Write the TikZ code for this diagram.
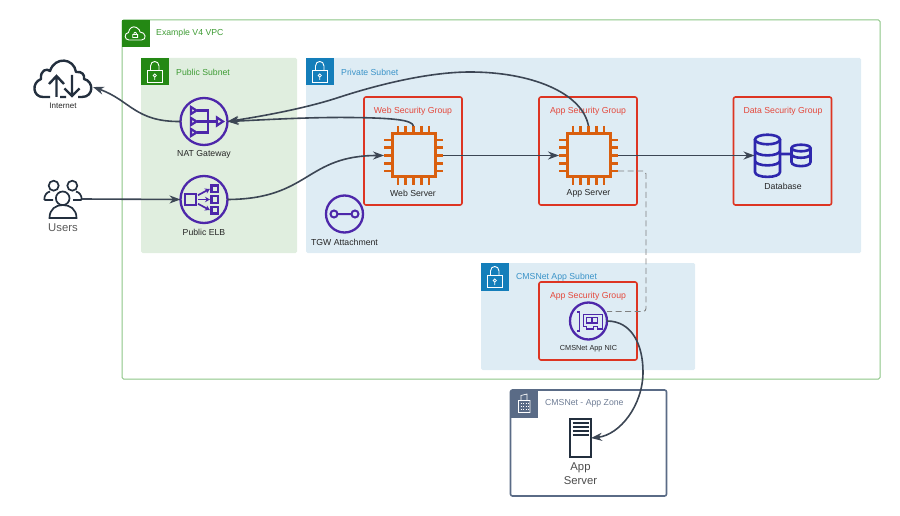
\documentclass[tikz,border=0pt]{standalone}
\usepackage{fontspec}
\setmainfont{Liberation Sans}
\usetikzlibrary{arrows.meta}
\definecolor{vpcgreen}{HTML}{248814}
\definecolor{vpcline}{HTML}{8CC586}
\definecolor{vpctext}{HTML}{3F9C35}
\definecolor{pubfill}{HTML}{E0EEDF}
\definecolor{privfill}{HTML}{DEECF4}
\definecolor{subblue}{HTML}{147EBA}
\definecolor{subtext}{HTML}{3A93C8}
\definecolor{sgred}{HTML}{DD3522}
\definecolor{sgtext}{HTML}{E4483C}
\definecolor{chiporange}{HTML}{D95F0E}
\definecolor{netpurple}{HTML}{4D27AA}
\definecolor{dbblue}{HTML}{2E27AD}
\definecolor{zonegray}{HTML}{5A6B86}
\definecolor{zonetext}{HTML}{6F7D95}
\definecolor{inkdark}{HTML}{232F3E}
\definecolor{connline}{HTML}{3C4654}
\tikzset{
  lab/.style={font=\fontsize{8.7}{10.5}\selectfont, inner sep=0pt, text=black!85},
  grouplab/.style={lab, anchor=west},
  bigbox/.style={anchor=north west, inner sep=0pt, outer sep=0pt, rounded corners=1.5pt},
  iconbox/.style={bigbox, minimum size=27.5, rounded corners=0pt},
  sgbox/.style={bigbox, draw=sgred, line width=1.6pt, minimum width=98, minimum height=108, rounded corners=2pt},
  iconspot/.style={inner sep=0pt, outer sep=0pt},
  round/.style={iconspot, circle, draw=netpurple, line width=2.3pt},
  conn/.style={draw=connline, line width=1.6pt, -{Stealth[length=11pt,width=8pt]}},
  % padlock of the subnet corners
  padlock/.pic={
    \draw[white, line width=.9pt] (6.5,12.5) rectangle (21,24);
    \draw[white, line width=.9pt] (9.5,12.5) -- (9.5,8) .. controls (9.5,2) and (18,2) .. (18,8) -- (18,12.5);
    \draw[white, line width=.8pt] (13.8,17.5) circle[radius=1.6] (13.8,19) -- (13.8,22);
  },
  % cpu with pins on all sides
  chip/.pic={
    \draw[chiporange, line width=3pt] (-21.5,-21.5) rectangle (21.5,21.5);
    \foreach \p in {-15.6,-7.8,0,7.8,15.6} {
      \draw[chiporange, line width=2.7pt] (\p,-29.5) -- (\p,-21.5) (\p,21.5) -- (\p,29.5)
        (-29.5,\p) -- (-21.5,\p) (21.5,\p) -- (29.5,\p);
    }
  },
}
\begin{document}
\begin{tikzpicture}[x=1pt, y=-1pt]
\useasboundingbox (0,0) rectangle (900,516);

% VPC and subnets
\node[bigbox, draw=vpcline, line width=1pt, minimum width=758, minimum height=359] (vpc) at (122,20) {};
\node[iconbox, fill=vpcgreen] (vpcIcon) at (122,20) {};
\draw[white, line width=.9pt] (129,40) .. controls (124,40) and (124,33) .. (128.5,32.5) .. controls (129,28) and (133,25.5) .. (136.5,27.5)
  .. controls (139,28.5) and (140,31) .. (140,32) .. controls (146,32) and (147,40) .. (141.5,40) -- cycle;
\draw[white, line width=.8pt] (132.8,34.5) rectangle (137.6,37.5) (133.8,34.5) .. controls (133.8,31.5) and (136.6,31.5) .. (136.6,34.5);
\node[grouplab, text=vpctext] (vpcLabel) at (156,33) {Example V4 VPC};

\node[bigbox, fill=pubfill, minimum width=156, minimum height=195] (publicSubnet) at (141,58) {};
\node[iconbox, fill=vpcgreen] (publicIcon) at (141,58) {};
\pic at (141,58) {padlock};
\node[grouplab, text=vpctext] (publicLabel) at (176,72) {Public Subnet};

\node[bigbox, fill=privfill, minimum width=555, minimum height=195] (privateSubnet) at (306,58) {};
\node[iconbox, fill=subblue] (privateIcon) at (306,58) {};
\pic at (306,58) {padlock};
\node[grouplab, text=subtext] (privateLabel) at (341,72) {Private Subnet};

\node[bigbox, fill=privfill, minimum width=214, minimum height=107] (cmsSubnet) at (481,263) {};
\node[iconbox, fill=subblue] (cmsIcon) at (481,263) {};
\pic at (481,263) {padlock};
\node[grouplab, text=subtext] (cmsLabel) at (516,277) {CMSNet App Subnet};

% Security groups
\node[sgbox] (webGroup) at (364,97) {};
\node[lab, text=sgtext] at (413,111) {Web Security Group};
\node[sgbox] (appGroup) at (539,97) {};
\node[lab, text=sgtext] at (588,111) {App Security Group};
\node[sgbox] (dataGroup) at (733.5,97) {};
\node[lab, text=sgtext] at (783,111) {Data Security Group};
\node[sgbox, minimum height=78] (nicGroup) at (539,282) {};
\node[lab, text=sgtext] at (588,296) {App Security Group};

% App zone
\node[bigbox, draw=zonegray, line width=1.6pt, minimum width=156, minimum height=106, rounded corners=2pt] (appZone) at (510.5,390) {};
\node[iconbox, fill=zonegray] (zoneIcon) at (510.5,390) {};
\draw[white, line width=.7pt] (518.5,412.5) rectangle (530,400.5) (521,400.5) -- (521,395.5) -- (527,394) -- (527,400.5);
\foreach \r in {403.5,406.5,409.5} {
  \draw[white, line width=.7pt, dash pattern=on 1pt off 1.5pt] (520.5,\r) -- (528.5,\r);
}
\node[grouplab, text=zonetext] (zoneLabel) at (545,403) {CMSNet - App Zone};

% Left side
\node[iconspot, minimum width=60, minimum height=38] (internet) at (63,79) {};
\draw[inkdark, line width=2.4pt, line join=round] (50,97) -- (43,97) .. controls (33,97) and (31,83) .. (41,79) .. controls (40,70) and (47,68) .. (50,71)
  .. controls (55,56) and (74,58) .. (76,72) .. controls (82,71) and (85,75) .. (84,79) .. controls (94,81) and (94,97) .. (82,97) -- (78,97)
  (60,97) -- (66,97);
\draw[inkdark, line width=2.4pt] (56.5,97) -- (56.5,76) (49,84) -- (56.5,76) -- (64,84)
  (72,75) -- (72,96) (64.5,88.5) -- (72,96) -- (79.5,88.5);
\node[lab, font=\fontsize{8}{10}\selectfont] (internetLabel) at (63,105.5) {Internet};

\node[iconspot, minimum width=38, minimum height=38] (users) at (63,199) {};
\draw[inkdark, line width=1.7pt] (53.7,185.7) circle[radius=5] (72.3,185.7) circle[radius=5]
  (44.3,200) .. controls (44.3,195) and (46.5,192.5) .. (50,191.5)
  (76,191.5) .. controls (79.5,192.5) and (81.7,195) .. (81.7,200)
  (44.3,200) -- (53,200) (73,200) -- (81.7,200);
\draw[inkdark, line width=1.7pt, fill=white] (49.5,218) .. controls (49.5,209) and (56,205) .. (62.7,205)
  .. controls (70,205) and (76.5,209) .. (76.5,218) -- cycle;
\draw[inkdark, line width=1.7pt, fill=white] (62.7,198.3) circle[radius=6.8];
\node[lab, font=\fontsize{11.3}{13}\selectfont, text=black!65] (usersLabel) at (63,228) {Users};

% NAT gateway
\node[round, minimum size=47] (natGateway) at (204,121.5) {};
\begin{scope}[shift={(204,121.5)}, netpurple, line width=2.2pt]
  \foreach \t in {-11,0,11} {
    \draw (-13,\t-3.5) -- (-7.5,\t) -- (-13,\t+3.5) -- cycle;
  }
  \draw (-7.5,-11) -- (3.7,-11) -- (3.7,11) -- (-7.5,11) (-7.5,0) -- (13,0);
  \draw (13,-4) -- (19,0) -- (13,4) -- cycle;
\end{scope}
\node[lab] (natLabel) at (204,154) {NAT Gateway};

% Public ELB
\node[round, minimum size=47] (publicElb) at (204,199.5) {};
\begin{scope}[shift={(204,199.5)}, netpurple, line width=2.2pt]
  \draw (-19,-5.3) rectangle (-8,5.3);
  \foreach \t in {-10.7,0,10.7} {
    \draw (7.5,\t-3.3) rectangle (14,\t+3.3);
    \draw[-{Stealth[length=5pt,width=5.5pt]}, line width=1.7pt] (-6,\t*.4) -- (6,\t);
  }
\end{scope}
\node[lab] (elbLabel) at (204,232) {Public ELB};

% TGW attachment
\node[round, minimum size=37] (tgw) at (344.5,214) {};
\begin{scope}[shift={(344.5,214)}, netpurple, line width=2pt]
  \draw (-10.5,0) circle[radius=3.5] (10.5,0) circle[radius=3.5] (-7,0) -- (7,0);
\end{scope}
\node[lab] (tgwLabel) at (344.5,242) {TGW Attachment};

% Servers
\node[iconspot, minimum size=59] (webServer) at (413.5,155.5) {};
\pic at (413.5,155.5) {chip};
\node[lab] (webLabel) at (413,193) {Web Server};
\node[iconspot, minimum size=59] (appServer) at (588.5,155.5) {};
\pic at (588.5,155.5) {chip};
\node[lab] (appLabel) at (588.5,193) {App Server};

% Database
\node[iconspot, minimum width=26, minimum height=43] (database) at (767.5,155.5) {};
\begin{scope}[dbblue, line width=2.6pt]
  \draw (767.5,139.5) ellipse[x radius=12.5, y radius=4.8];
  \draw (755,139.5) -- (755,172) .. controls (755,178.5) and (780,178.5) .. (780,172) -- (780,139.5)
    (755,150.5) .. controls (755,157) and (780,157) .. (780,150.5)
    (755,160.5) .. controls (755,167) and (780,167) .. (780,160.5);
  \draw (801,148) ellipse[x radius=9.5, y radius=3.3];
  \draw (791.5,148) -- (791.5,162) .. controls (791.5,167.5) and (810.5,167.5) .. (810.5,162) -- (810.5,148)
    (791.5,154) .. controls (791.5,159) and (810.5,159) .. (810.5,154)
    (780,154) -- (791.5,154);
\end{scope}
\node[lab] (dbLabel) at (783,186) {Database};

% CMSNet NIC
\node[round, minimum size=37] (nic) at (588.5,321) {};
\begin{scope}[shift={(588.5,321)}, netpurple, line width=1.7pt]
  \draw (-11.5,-9) -- (-9,-9) -- (-9,10) -- (-11.5,10);
  \draw (-5,-6.5) -- (14,-6.5) -- (14,8) -- (9,8) -- (9,5.5) -- (5,5.5) -- (5,8) -- (-2,8) -- (-2,5.5) -- (-5,5.5) -- cycle;
  \draw (-2,-3.5) rectangle (9,2) (3.5,-3.5) -- (3.5,2);
\end{scope}
\node[lab, font=\fontsize{7.3}{9}\selectfont] (nicLabel) at (588.5,349) {CMSNet App NIC};

% On-prem server
\node[iconspot, draw=inkdark, line width=1.8pt, minimum width=21, minimum height=38] (cmsServer) at (580.5,438) {};
\foreach \r in {423,427,431,435} {
  \draw[inkdark, line width=1.2pt] (572.5,\r) -- (588.5,\r);
}
\node[lab, font=\fontsize{11.3}{13.5}\selectfont, align=center, text=black!70] (cmsServerLabel) at (580.5,473.5) {App\\Server};

% Connectors
\draw[conn] (natGateway.west) .. controls (135,122) and (130,100) .. (internet.-15);
\draw[conn] (users.east) -- (publicElb.west);
\draw[conn] (publicElb.east) .. controls (310,199) and (305,155.5) .. (webServer.west);
\draw[conn] (webServer.east) -- (appServer.west);
\draw[conn] (appServer.east) -- (database.west);
\draw[conn] (webServer.north) .. controls (412,120) and (395,118) .. (350,117.5) .. controls (310,117) and (260,120) .. (natGateway.east);
\draw[conn] (appServer.north) .. controls (582,92) and (530,72) .. (470,72) .. controls (430,72) and (380,84) .. (340,97) .. controls (310,107) and (270,115) .. (natGateway.east);
\draw[conn] (nic.east) .. controls (632,321) and (643,345) .. (643,372) .. controls (643,405) and (620,435) .. (cmsServer.east);
\draw[draw=gray, line width=.9pt, dash pattern=on 6pt off 3.5pt, rounded corners=3pt] (appServer.east |- 0,171) -- (646,171) -- (646,311.5) -- (607,311.5);
\end{tikzpicture}
\end{document}
